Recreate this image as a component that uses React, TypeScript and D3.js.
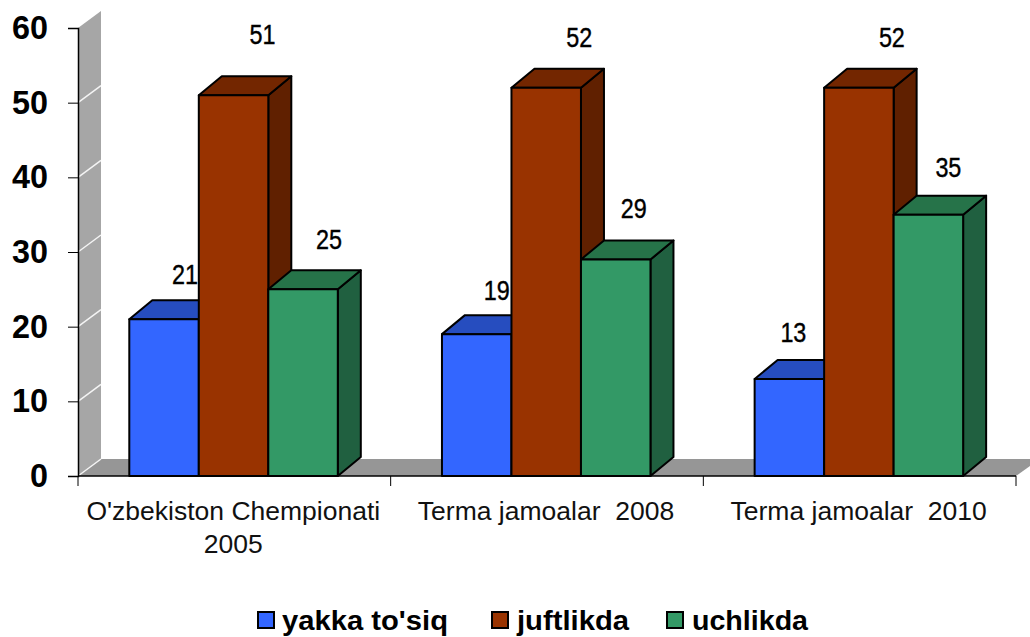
import React, { useEffect, useRef } from "react";
import * as d3 from "d3";

const categories = [["O'zbekiston Chempionati", "2005"], ["Terma jamoalar  2008"], ["Terma jamoalar  2010"]];
const seriesNames = ["yakka to'siq", "juftlikda", "uchlikda"];
const yakka = [21, 19, 13];
const juft = [51, 52, 52];
const uch = [25, 29, 35];
const yTicks = [0, 10, 20, 30, 40, 50, 60];

const front = ["#3366ff", "#993300", "#339966"];
const top = ["#264dbf", "#732600", "#267349"];
const side = ["#1f3f9c", "#602000", "#206040"];

// hand placed data labels in the original, offset from the bar's top centre
const labelDx = [[21, 29, 26], [20, 33, 18], [4, 33, 20]];
const labelDy = [[-45, -61, -50], [-44, -50, -51], [-47, -50, -47]];

const App = () => {
    const ref = useRef<SVGSVGElement>(null);

    useEffect(() => {
        const svg = d3.select(ref.current);
        svg.selectAll("*").remove(); // clear previous chart

        const font = "'Liberation Sans', Arial, sans-serif";
        const depthX = 23;
        const wallDepthY = 17;
        const barDepthY = 19;

        const y = d3.scaleLinear().domain([0, 60]).range([476, 28]);
        const x = d3.scaleBand().domain(["0", "1", "2"]).range([78, 1016]);
        const barX = d3.scaleBand().domain(["0", "1", "2"]).range([51.3, 51.3 + 208.5]);
        const series = [yakka, juft, uch];

        // back wall and floor
        svg.append("polygon")
            .attr("points", `${x.range()[0]},${y(60)} ${x.range()[0] + depthX},${y(60) - wallDepthY} ${x.range()[0] + depthX},${y(0) - wallDepthY} ${x.range()[0]},${y(0)}`)
            .attr("fill", "#a6a6a6");
        svg.append("polygon")
            .attr("points", `${x.range()[0]},${y(0)} ${x.range()[0] + depthX},${y(0) - wallDepthY} 1040,${y(0) - wallDepthY} 1016,${y(0)}`)
            .attr("fill", "#969696");

        svg.selectAll("line.grid")
            .data(yTicks.slice(0, -1))
            .enter()
            .append("line")
            .attr("x1", x.range()[0])
            .attr("x2", x.range()[0] + depthX)
            .attr("y1", (d) => y(d))
            .attr("y2", (d) => y(d) - wallDepthY)
            .attr("stroke", "#f4f4f4")
            .attr("stroke-width", 1.5);

        // axes
        const yAxis = svg.append("g")
            .attr("transform", `translate(${x.range()[0]},0)`)
            .call(d3.axisLeft(y).tickValues(yTicks).tickSize(10).tickPadding(20));
        yAxis.select(".domain").attr("stroke", "#000").attr("stroke-width", 1.5);
        yAxis.selectAll("text")
            .attr("font-family", font)
            .attr("font-size", 33)
            .attr("font-weight", "bold")
            .attr("fill", "#000")
            .attr("textLength", (d) => (d === 0 ? 18 : 36))
            .attr("lengthAdjust", "spacingAndGlyphs");

        const xAxisG = svg.append("g").attr("transform", `translate(0,${y(0)})`);
        xAxisG.append("line")
            .attr("x1", x.range()[0]).attr("x2", x.range()[1])
            .attr("stroke", "#000").attr("stroke-width", 1.5);
        xAxisG.selectAll("line.tick")
            .data([...x.domain().map((d) => x(d) as number), x.range()[1]])
            .enter()
            .append("line")
            .attr("x1", (d) => d).attr("x2", (d) => d)
            .attr("y1", 0).attr("y2", 10)
            .attr("stroke", "#000");

        // bars, left to right so each one overlaps the side of the previous
        categories.forEach((_, c) => {
            const g0 = x(String(c)) as number;
            series.forEach((values, s) => {
                const bx = g0 + (barX(String(s)) as number);
                const w = barX.bandwidth();
                const by = y(values[c]);
                const base = y(0);
                const g = svg.append("g").attr("stroke", "#000").attr("stroke-width", 2).attr("stroke-linejoin", "round");
                g.append("polygon")
                    .attr("points", `${bx + w},${by} ${bx + w + depthX},${by - barDepthY} ${bx + w + depthX},${base - barDepthY} ${bx + w},${base}`)
                    .attr("fill", side[s]);
                g.append("polygon")
                    .attr("points", `${bx},${by} ${bx + depthX},${by - barDepthY} ${bx + w + depthX},${by - barDepthY} ${bx + w},${by}`)
                    .attr("fill", top[s]);
                g.append("rect")
                    .attr("x", bx).attr("y", by)
                    .attr("width", w).attr("height", base - by)
                    .attr("fill", front[s]);
            });
        });

        // data labels on top of everything
        categories.forEach((_, c) => {
            const g0 = x(String(c)) as number;
            series.forEach((values, s) => {
                svg.append("text")
                    .attr("x", g0 + (barX(String(s)) as number) + barX.bandwidth() / 2 + labelDx[c][s])
                    .attr("y", y(values[c]) + labelDy[c][s])
                    .attr("dy", "0.36em")
                    .attr("text-anchor", "middle")
                    .attr("font-family", font)
                    .attr("font-size", 27)
                    .attr("textLength", 26)
                    .attr("lengthAdjust", "spacingAndGlyphs")
                    .attr("stroke", "#000")
                    .attr("stroke-width", 0.4)
                    .attr("fill", "#000")
                    .text(values[c]);
            });
        });

        // category labels
        categories.forEach((lines, c) => {
            const cx = (x(String(c)) as number) + x.bandwidth() / 2 - 1;
            const t = svg.append("text")
                .attr("text-anchor", "middle")
                .attr("font-family", font)
                .attr("font-size", 26.5)
                .attr("fill", "#111")
                .attr("xml:space", "preserve")
                .style("white-space", "pre");
            lines.forEach((line, i) => {
                t.append("tspan").attr("x", cx).attr("y", 520 + i * 33).text(line);
            });
        });

        // legend
        const legendX = [258, 492, 667];
        const legendTextWidth = [166, 112, 116];
        seriesNames.forEach((name, i) => {
            svg.append("rect")
                .attr("x", legendX[i]).attr("y", 612)
                .attr("width", 16).attr("height", 16)
                .attr("fill", front[i])
                .attr("stroke", "#000")
                .attr("stroke-width", 2);
            svg.append("text")
                .attr("x", legendX[i] + (i === 0 ? 24 : 25))
                .attr("y", 630)
                .attr("font-family", font)
                .attr("font-size", 27.5)
                .attr("font-weight", "bold")
                .attr("textLength", legendTextWidth[i])
                .attr("lengthAdjust", "spacingAndGlyphs")
                .attr("fill", "#000")
                .text(name);
        });
    }, []);

    return <svg ref={ref} width={1030} height={637} style={{ position: "absolute", left: 0, top: 0, background: "#fff" }} />;
};

export default App;
